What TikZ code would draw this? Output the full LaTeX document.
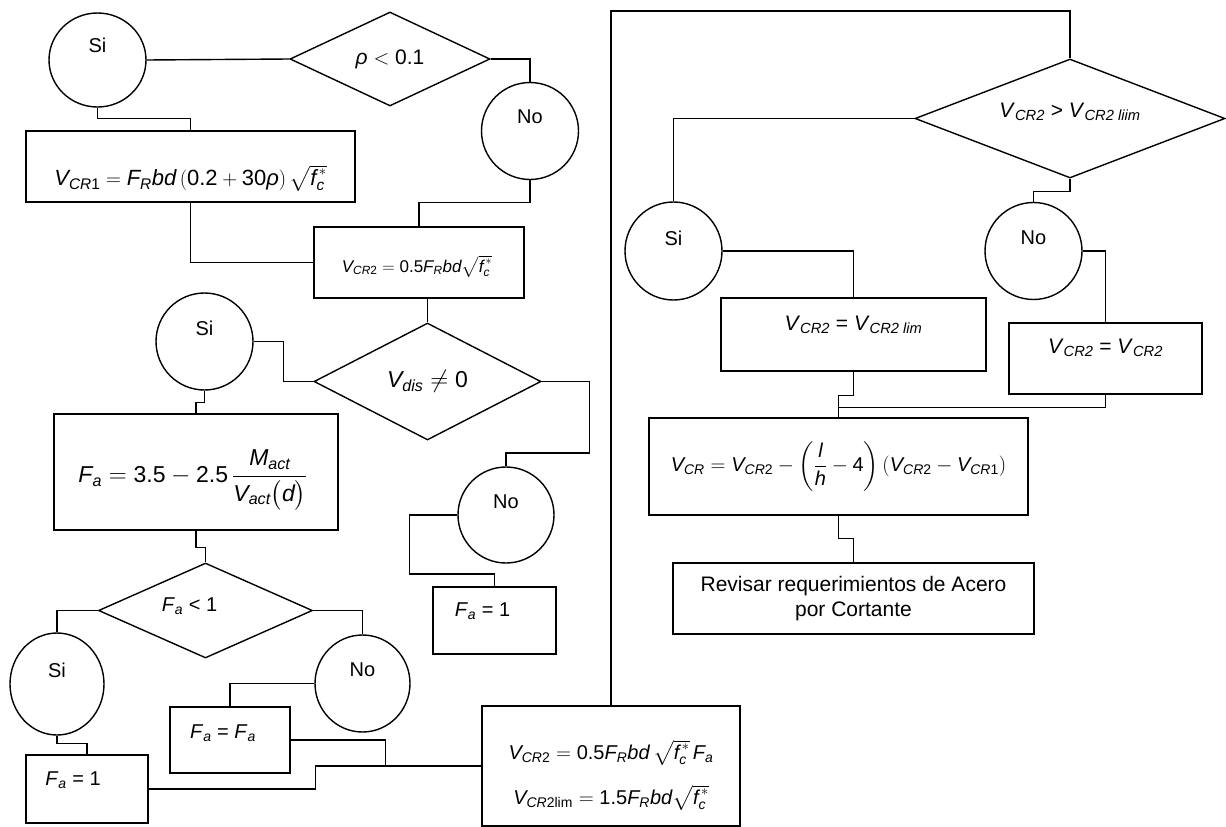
\documentclass[tikz,border=0pt]{standalone}
\usepackage{amsmath}
\usepackage{fontspec}
\setmainfont{Liberation Sans}
\usetikzlibrary{shapes.geometric,calc}
\newcommand{\fsz}[1]{\fontsize{#1}{#1}\selectfont}
\begin{document}
\begin{tikzpicture}[x=1pt,y=-1pt,
  ell/.style={draw, line width=1.4pt, ellipse, minimum width=97pt, minimum height=97pt, inner sep=0pt},
  dec/.style={draw, line width=1.4pt, diamond, inner sep=0pt},
  boxn/.style={draw, line width=1.4pt, rectangle, inner sep=0pt},
  conn/.style={line width=1.4pt},
  lbl/.style={font=\fsz{20}}]
\useasboundingbox (0,0) rectangle (1226,827);
\coordinate (top) at (0,11);
% ---------- left column ----------
\node[ell, minimum height=94pt, label={[lbl,yshift=15pt]center:Si}] (si1) at (97.5,60) {};
\node[dec, minimum width=200pt, minimum height=94pt, font=\fsz{21}] (rho) at (390,59) {$\textit{ρ} < \text{0.1}$};
\node[ell, label={[lbl,yshift=14pt]center:No}] (no1) at (530,131) {};
\node[boxn, minimum width=329pt, minimum height=71pt,
  label={[font=\fsz{22},yshift=-12pt]center:{$\textit{V}_{\textit{CR}\text{1}} = \textit{F}_{\textit{R}}\textit{bd}\left(\text{0.2} + \text{30}\textit{ρ}\right)\sqrt{\textit{f}_{\textit{c}}^{\,*}}$}}] (box1) at (190.5,166.5) {};
\node[boxn, minimum width=210pt, minimum height=71pt,
  label={[font=\fsz{17},yshift=-4pt,xshift=-2pt]center:{$\textit{V}_{\textit{CR}\text{2}}\;{=}\;\text{0.5}\textit{F}_{\textit{R}}\textit{bd}\sqrt{\textit{f}_{\textit{c}}^{\,*}}$}}] (box2) at (419,262.5) {};
\node[dec, minimum width=227pt, minimum height=117pt, font=\fsz{23}] (vdis) at (427.5,381.5) {$\textit{V}_{\textit{dis}} \neq \text{0}$};
\node[ell, label={[lbl,yshift=13pt]center:Si}] (si2) at (204.5,341.5) {};
\node[boxn, minimum width=284pt, minimum height=116pt,
  label={[font=\fsz{23},yshift=-8pt,xshift=-3pt]center:{$\textit{F}_{\textit{a}} = \text{3.5} - \text{2.5}\,\dfrac{\textit{M}_{\textit{act}}}{\textit{V}_{\textit{act}}\bigl(\textit{d}\bigr)}$}}] (boxfa) at (196,472) {};
\node[ell, minimum width=96pt, minimum height=96pt, label={[lbl,yshift=13pt]center:No}] (no2) at (506,515) {};
\node[boxn, minimum width=123pt, minimum height=67pt,
  label={[font=\fsz{20},xshift=-12pt,yshift=9pt]center:{\textit{F}\textsubscript{\textit{a}} = 1}}] (fa1r) at (494.5,620.5) {};
\node[dec, minimum width=214pt, minimum height=95pt,
  label={[font=\fsz{20},xshift=-16pt,yshift=4pt]center:{\textit{F}\textsubscript{\textit{a}} < 1}}] (fad) at (205.5,610.5) {};
\node[ell, minimum width=94pt, minimum height=102pt, label={[lbl,yshift=14pt]center:Si}] (si3) at (57,684) {};
\node[ell, minimum width=95pt, minimum height=97pt, label={[lbl,yshift=13.5pt]center:No}] (no3) at (362.5,683.5) {};
\node[boxn, minimum width=122pt, minimum height=68pt,
  label={[font=\fsz{20},xshift=-14pt,yshift=9pt]center:{\textit{F}\textsubscript{\textit{a}} = 1}}] (fa1l) at (87,789) {};
\node[boxn, minimum width=120pt, minimum height=66pt,
  label={[font=\fsz{20},xshift=-7pt,yshift=7pt]center:{\textit{F}\textsubscript{\textit{a}} = \textit{F}\textsubscript{\textit{a}}}}] (fafa) at (230,740) {};
\node[boxn, minimum width=258pt, minimum height=120pt,
  label={[font=\fsz{20},yshift=13pt]center:{$\textit{V}_{\textit{CR}\text{2}} = \text{0.5}\textit{F}_{\textit{R}}\textit{bd}\,\sqrt{\textit{f}_{\textit{c}}^{\,*}}\,\textit{F}_{\textit{a}}$}},
  label={[font=\fsz{20},yshift=-32pt]center:{$\textit{V}_{\textit{CR}\text{2lim}} = \text{1.5}\textit{F}_{\textit{R}}\textit{bd}\sqrt{\textit{f}_{\textit{c}}^{\,*}}$}}] (big) at (611,766) {};
% ---------- right column ----------
\node[dec, minimum width=310pt, minimum height=119pt,
  label={[font=\fsz{21},yshift=6.5pt]center:{\textit{V}\textsubscript{\textit{CR2}} > \textit{V}\textsubscript{\textit{CR2 liim}}}}] (vlim) at (1070,118.5) {};
\node[ell, minimum height=98pt, label={[lbl,yshift=13pt]center:Si}] (si4) at (673.5,251) {};
\node[ell, label={[lbl,yshift=13pt]center:No}] (no4) at (1033.5,251) {};
\node[boxn, minimum width=265pt, minimum height=73pt,
  label={[font=\fsz{21},yshift=9.5pt]center:{\textit{V}\textsubscript{\textit{CR2}} = \textit{V}\textsubscript{\textit{CR2 lim}}}}] (boxlim) at (853.5,334.5) {};
\node[boxn, minimum width=193pt, minimum height=71pt,
  label={[font=\fsz{21},yshift=10.5pt]center:{\textit{V}\textsubscript{\textit{CR2}} = \textit{V}\textsubscript{\textit{CR2}}}}] (boxv2) at (1105.5,358.5) {};
\node[boxn, minimum width=379pt, minimum height=97pt, font=\fsz{20}] (boxvcr) at (838.5,466.5)
  {$\textit{V}_{\textit{CR}} = \textit{V}_{\textit{CR}\text{2}} - \left(\dfrac{\textit{l}}{\textit{h}} - \text{4}\right)\left(\textit{V}_{\textit{CR}\text{2}} - \textit{V}_{\textit{CR}\text{1}}\right)$};
\node[boxn, minimum width=361pt, minimum height=71pt, font=\fsz{21}, align=center] (boxrev) at (853.5,598.5)
  {Revisar requerimientos de Acero\\[4pt]por Cortante};
% ---------- connectors ----------
\draw[conn] (si1.east) -- (rho.west);
\draw[conn] (rho.east) -| (no1.north);
\draw[conn] (no1.south) -- ++(0,22.5) -| (box2.north);
\draw[conn] (si1.south) -- ++(0,11) -| (box1.north);
\draw[conn] (box1.south) |- (box2.west);
\draw[conn] (box2.south -| vdis.north) -- (vdis.north);
\draw[conn] (si2.east) -- ++(30,0) |- (vdis.west);
\draw[conn] (vdis.east) -- ++(48,0) -- ++(0,71.5) -| (no2.north);
\draw[conn] (si2.south) -- ++(0,12) -| (boxfa.north);
\draw[conn] (no2.west) -- ++(-48,0) -- ++(0,59) -| (fa1r.north);
\draw[conn] (boxfa.south) -- ++(0,17) -| (fad.north);
\draw[conn] (fad.west) -| (si3.north);
\draw[conn] (fad.east) -| (no3.north);
\draw[conn] (si3.south) -- ++(0,8) -| (fa1l.north);
\draw[conn] (no3.west) -| (fafa.north);
\draw[conn] (fafa.east) -- ++(95,0) |- (big.west);
\draw[conn] (fa1l.east) -- ++(167,0) |- (big.west);
\draw[conn] (big.north) -- (big.north |- top) -| (vlim.north);
\draw[conn] (vlim.west) -| (si4.north);
\draw[conn] (vlim.south) -- ++(0,13) -| (no4.north);
\draw[conn] (si4.east) -| (boxlim.north);
\draw[conn] (no4.east) -| (boxv2.north);
\draw[conn] (boxlim.south) -- ++(0,24) -| (boxvcr.north);
\draw[conn] (boxv2.south) -- ++(0,13) -| (boxvcr.north);
\draw[conn] (boxvcr.south) -- ++(0,23) -| (boxrev.north);
\end{tikzpicture}
\end{document}
